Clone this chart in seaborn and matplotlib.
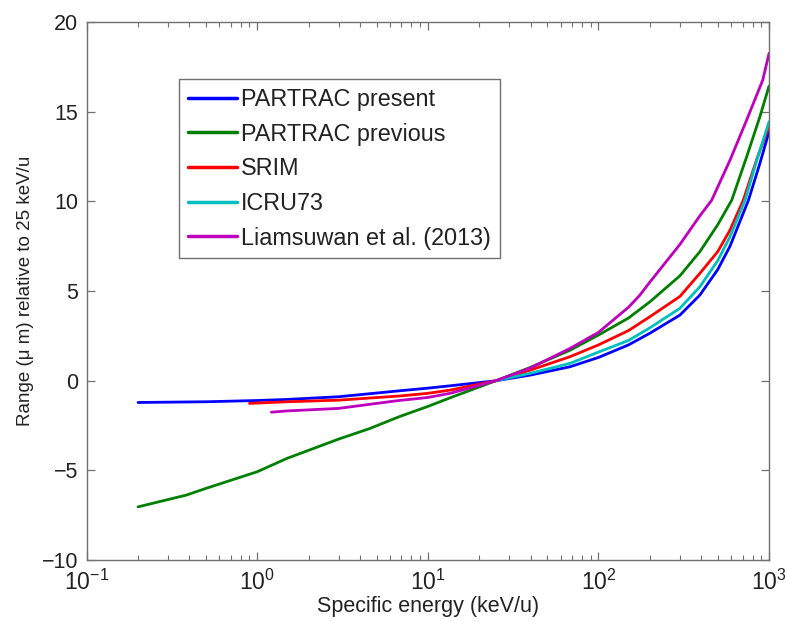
import numpy as np
import pandas as pd
import seaborn as sns
import matplotlib
matplotlib.use("Agg")
import matplotlib.pyplot as plt
from matplotlib.ticker import LogLocator, FixedLocator

# values (energy in keV/u, range in um relative to 25 keV/u)
present_e = [0.2, 0.5, 1, 1.5, 3, 6.8, 10, 13.5, 25, 40, 68, 100, 150, 200, 300, 393, 500, 590, 757, 883, 1000]
present_r = [-1.21, -1.17, -1.1, -1.04, -0.89, -0.56, -0.41, -0.28, 0, 0.32, 0.78, 1.3, 2.0, 2.65, 3.66, 4.78, 6.2, 7.5, 10.07, 12.12, 13.89]

previous_e = [0.2, 0.385, 0.5, 1, 1.49, 3, 4.57, 6.8, 10, 13.5, 25, 40, 68, 100, 150, 200, 300, 393, 500, 604, 739, 883, 1000]
previous_r = [-7.03, -6.37, -6.0, -5.07, -4.33, -3.25, -2.66, -2.0, -1.43, -0.95, 0, 0.75, 1.7, 2.55, 3.5, 4.4, 5.85, 7.2, 8.7, 10.07, 12.49, 14.72, 16.44]

srim_e = [0.9, 1.5, 3, 6.8, 10, 13.5, 25, 40, 68, 100, 150, 200, 300, 393, 500, 590, 706, 850, 1000]
srim_r = [-1.26, -1.17, -1.08, -0.85, -0.7, -0.52, 0, 0.6, 1.34, 2.0, 2.8, 3.57, 4.7, 5.99, 7.2, 8.4, 10.07, 12.4, 14.2]

icru_e = [25, 40, 68, 100, 150, 200, 300, 393, 500, 590, 723, 847, 1000]
icru_r = [0, 0.42, 0.97, 1.6, 2.25, 2.95, 4.04, 5.24, 6.7, 8.03, 10.07, 12.3, 14.45]

liam_e = [1.21, 1.5, 3, 6.5, 10, 13.5, 25, 40, 68, 100, 150, 175, 200, 300, 393, 461, 590, 739, 918, 1000]
liam_r = [-1.75, -1.68, -1.54, -1.12, -0.93, -0.7, 0, 0.72, 1.8, 2.7, 4.1, 4.78, 5.5, 7.6, 9.2, 10.07, 12.3, 14.54, 16.77, 18.26]

labels = ["PARTRAC present", "PARTRAC previous", "SRIM", "ICRU73", "Liamsuwan et al. (2013)"]
colors = ["#0000ff", "#008000", "#ff0000", "#00bfbf", "#bf00bf"]

series = [(present_e, present_r), (previous_e, previous_r), (srim_e, srim_r),
          (icru_e, icru_r), (liam_e, liam_r)]
df = pd.concat([pd.DataFrame({"energy": e, "range": r, "source": lab})
                for (e, r), lab in zip(series, labels)], ignore_index=True)

sns.set_style("ticks")
plt.rcParams["font.family"] = ["Liberation Sans", "DejaVu Sans"]
plt.rcParams["mathtext.fontset"] = "custom"
plt.rcParams["mathtext.rm"] = "Liberation Sans"
plt.rcParams["mathtext.it"] = "Liberation Sans:italic"

txt = "#222222"
edge = "#707070"

fig = plt.figure(figsize=(7.88, 6.21), dpi=100)
ax = fig.add_axes([0.110, 0.098, 0.866, 0.8665])

sns.lineplot(data=df, x="energy", y="range", hue="source", hue_order=labels,
             palette=colors, linewidth=2.0, errorbar=None, sort=True, ax=ax)

ax.set_xscale("log")
ax.set_xlim(0.1, 1000)
ax.set_ylim(-10, 20)
ax.yaxis.set_major_locator(FixedLocator([-10, -5, 0, 5, 10, 15, 20]))
ax.xaxis.set_major_locator(LogLocator(base=10, numticks=10))
ax.xaxis.set_minor_locator(LogLocator(base=10, subs=np.arange(2, 10), numticks=10))

ax.tick_params(which="both", direction="in", top=True, right=True, color=edge,
               labelcolor=txt)
ax.tick_params(which="major", length=6, width=0.9)
ax.tick_params(which="minor", length=3.5, width=0.8)
ax.tick_params(axis="y", labelsize=15.5, pad=6)
ax.tick_params(axis="x", labelsize=16.5, pad=7)
for s in ax.spines.values():
    s.set_color(edge)
    s.set_linewidth(1.0)

ax.set_xlabel("Specific energy (keV/u)", fontsize=15.5, color=txt, labelpad=1)
ax.set_ylabel("Range (\u03bc m) relative to 25 keV/u", fontsize=13.5, color=txt, labelpad=6)

handles, labs = ax.get_legend_handles_labels()
leg = ax.legend(handles, labs, loc="upper left", bbox_to_anchor=(0.136, 0.894),
                borderaxespad=0, fontsize=16.8, frameon=True, fancybox=False,
                framealpha=1, edgecolor=edge, handlelength=2.1, handletextpad=0.17,
                labelspacing=0.5, borderpad=0.38)
leg.get_frame().set_linewidth(1.0)
for line in leg.get_lines():
    line.set_linewidth(2.5)
for t in leg.get_texts():
    t.set_color(txt)

fig.savefig("out.png", dpi=100)
